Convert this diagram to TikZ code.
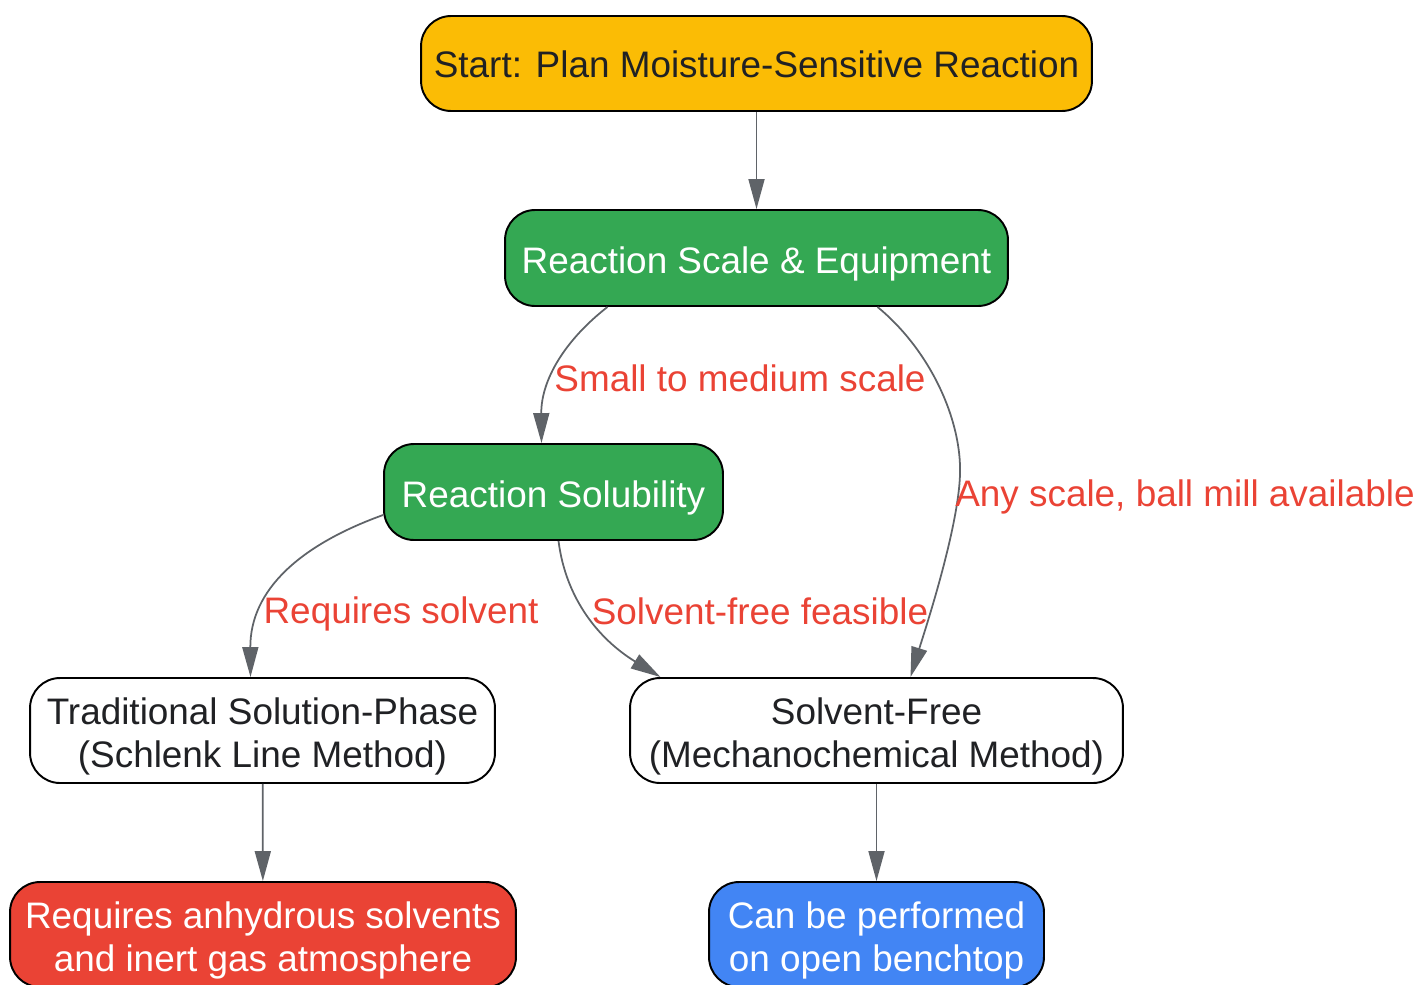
\documentclass[tikz,border=0pt]{standalone}
\usepackage{fontspec}
\setmainfont{Liberation Sans}
\usepackage{xcolor}
\usepackage{tikz}
\usetikzlibrary{arrows.meta, positioning, calc}

\definecolor{startyellow}{HTML}{FBBC05}
\definecolor{stepgreen}{HTML}{34A853}
\definecolor{endred}{HTML}{EA4335}
\definecolor{endblue}{HTML}{4285F4}
\definecolor{edgegray}{HTML}{5F6368}
\definecolor{textdark}{HTML}{202124}

\begin{document}
\begin{tikzpicture}[x=0.02cm, y=-0.02cm,
    box/.style={draw=black, line width=1.1pt, rounded corners=0.6cm, align=center, inner sep=2pt,
        font=\fontsize{21}{24}\selectfont, text=textdark,
        execute at begin node={\rule{0pt}{#1}}},
    box/.default=22pt,
    whitetext/.style={text=white},
    arr/.style={draw=edgegray, line width=1pt, -{Triangle[length=0.6cm, width=0.32cm]}},
    lbl/.style={text=endred, font=\fontsize{21}{24}\selectfont, inner sep=0pt}]
    \useasboundingbox (0,0) rectangle (1420,984);

    \node[box=16.5pt, fill=startyellow, minimum width=13.42cm, minimum height=1.9cm] (start) at (756.5,63.5) {Start: Plan Moisture-Sensitive Reaction};
    \node[box, whitetext, fill=stepgreen, minimum width=10.06cm, minimum height=1.92cm] (scale) at (756.5,258) {Reaction Scale \& Equipment};
    \node[box, whitetext, fill=stepgreen, minimum width=6.78cm, minimum height=1.92cm] (solub) at (553.5,492) {Reaction Solubility};
    \node[box=46pt, fill=white, minimum width=9.3cm, minimum height=2.1cm] (trad) at (262.5,730.5) {Traditional Solution-Phase\\(Schlenk Line Method)};
    \node[box=46pt, fill=white, minimum width=9.86cm, minimum height=2.1cm] (free) at (876.5,730.5) {Solvent-Free\\(Mechanochemical Method)};
    \node[box=46pt, whitetext, fill=endred, minimum width=10.12cm, minimum height=2.1cm] (anhyd) at (263,934.5) {Requires anhydrous solvents\\and inert gas atmosphere};
    \node[box=46pt, whitetext, fill=endblue, minimum width=6.7cm, minimum height=2.1cm] (bench) at (876.5,934.5) {Can be performed\\on open benchtop};

    \draw[arr] (start) -- (scale);
    \draw[arr] ($(scale.south)+(-149,0)$) .. controls (565,340) and (541,380) .. ($(solub.north)+(-12,0)$);
    \draw[arr] ($(scale.south)+(121,0)$) .. controls (930,350) and (962,420) .. (960,475)
        .. controls (958,530) and (925,630) .. ($(free.north)+(34,0)$);
    \draw[arr] ($(solub.west)+(0,23)$) .. controls (300,545) and (250,590) .. ($(trad.north)+(-12,0)$);
    \draw[arr] ($(solub.south)+(5,0)$) .. controls (566,600) and (600,640) .. ($(free.north)+(-216,0)$);
    \draw[arr] (trad) -- (anhyd);
    \draw[arr] (free) -- (bench);

    \node[lbl] (lsmall) at (740,378) {Small to medium scale};
    \node[lbl] (lany) at (1185,497) {Any scale, ball mill available};
    \node[lbl] (lreq) at (401,614) {Requires solvent};
    \node[lbl] (lfree) at (760,611) {Solvent-free feasible};
\end{tikzpicture}
\end{document}
